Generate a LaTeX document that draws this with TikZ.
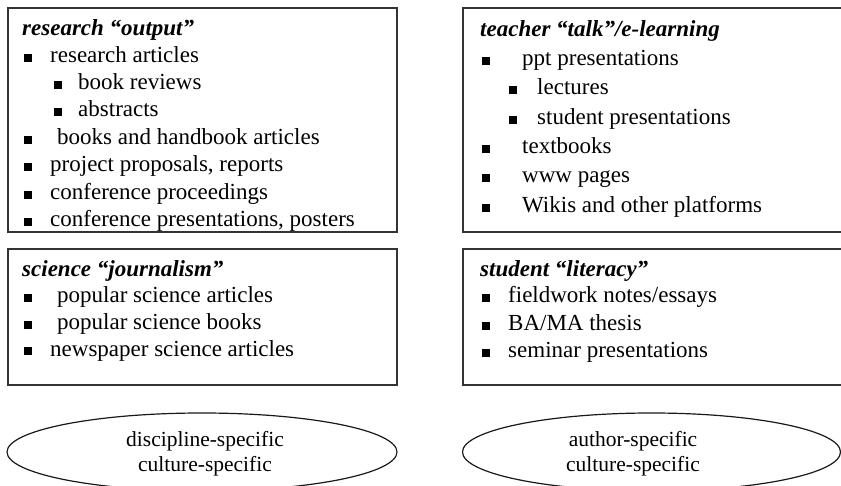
\documentclass[tikz,border=0pt]{standalone}
\usepackage{fontspec}
\setmainfont{Liberation Serif}
\usetikzlibrary{shapes.geometric}
\begin{document}
\begin{tikzpicture}[x=1pt,y=-1pt,
  box/.style={draw=black!80,line width=1.5pt},
  txt/.style={anchor=base west,inner sep=0pt,font=\fontsize{23}{27}\selectfont},
  ttl/.style={anchor=base west,inner sep=0pt,font=\fontsize{23}{27}\selectfont\bfseries\itshape},
  bul/.style={fill=black,draw=none,minimum size=7.5pt,inner sep=0pt,outer sep=0pt},
  oval/.style={ellipse,draw=black!90,line width=1.2pt,inner sep=0pt,outer sep=0pt},
  otxt/.style={anchor=base,inner sep=0pt,font=\fontsize{21.5}{25}\selectfont}]
\useasboundingbox (0,0) rectangle (841,486);

% boxes
\draw[box] (8,8) rectangle (397,232);
\draw[box] (463,8) rectangle (845,232);
\draw[box] (8,249) rectangle (397,385);
\draw[box] (463,249) rectangle (845,385);

% research output
\node[ttl] (t1) at (22,36) {research “output”};
\node[bul] (b11) at (28,58) {};  \node[txt] (i11) at (50,63) {research articles};
\node[bul] (b12) at (58,85) {};  \node[txt] (i12) at (78,90) {book reviews};
\node[bul] (b13) at (58,112) {}; \node[txt] (i13) at (78,117) {abstracts};
\node[bul] (b14) at (28,140) {}; \node[txt] (i14) at (57,145) {books and handbook articles};
\node[bul] (b15) at (28,167) {}; \node[txt] (i15) at (50,172) {project proposals, reports};
\node[bul] (b16) at (28,195) {}; \node[txt] (i16) at (50,200) {conference proceedings};
\node[bul] (b17) at (28,222) {}; \node[txt] (i17) at (50,227) {conference presentations, posters};

% teacher talk
\node[ttl] (t2) at (480,37) {teacher “talk”/e-learning};
\node[bul] (b21) at (486,61) {};  \node[txt] (i21) at (522,66) {ppt presentations};
\node[bul] (b22) at (513,90) {};  \node[txt] (i22) at (537,95) {lectures};
\node[bul] (b23) at (513,120) {}; \node[txt] (i23) at (537,125) {student presentations};
\node[bul] (b24) at (486,149) {}; \node[txt] (i24) at (522,154) {textbooks};
\node[bul] (b25) at (486,178) {}; \node[txt] (i25) at (522,183) {www pages};
\node[bul] (b26) at (486,208) {}; \node[txt] (i26) at (522,213) {Wikis and other platforms};

% science journalism
\node[ttl] (t3) at (22,277) {science “journalism”};
\node[bul] (b31) at (28,298) {}; \node[txt] (i31) at (57,303) {popular science articles};
\node[bul] (b32) at (28,325) {}; \node[txt] (i32) at (57,330) {popular science books};
\node[bul] (b33) at (28,351) {}; \node[txt] (i33) at (50,356) {newspaper science articles};

% student literacy
\node[ttl] (t4) at (480,277) {student “literacy”};
\node[bul] (b41) at (486,298) {}; \node[txt] (i41) at (508,303) {fieldwork notes/essays};
\node[bul] (b42) at (486,326) {}; \node[txt] (i42) at (508,331) {BA/MA thesis};
\node[bul] (b43) at (486,353) {}; \node[txt] (i43) at (508,358) {seminar presentations};

% ellipses
\node[oval,minimum width=390pt,minimum height=78pt] (e1) at (202,452) {};
\node[otxt] (e1a) at (205,446) {discipline-specific};
\node[otxt] (e1b) at (205,471) {culture-specific};
\node[oval,minimum width=378pt,minimum height=78pt] (e2) at (651.5,452) {};
\node[otxt] (e2a) at (633,446) {author-specific};
\node[otxt] (e2b) at (633,471) {culture-specific};
\end{tikzpicture}
\end{document}
